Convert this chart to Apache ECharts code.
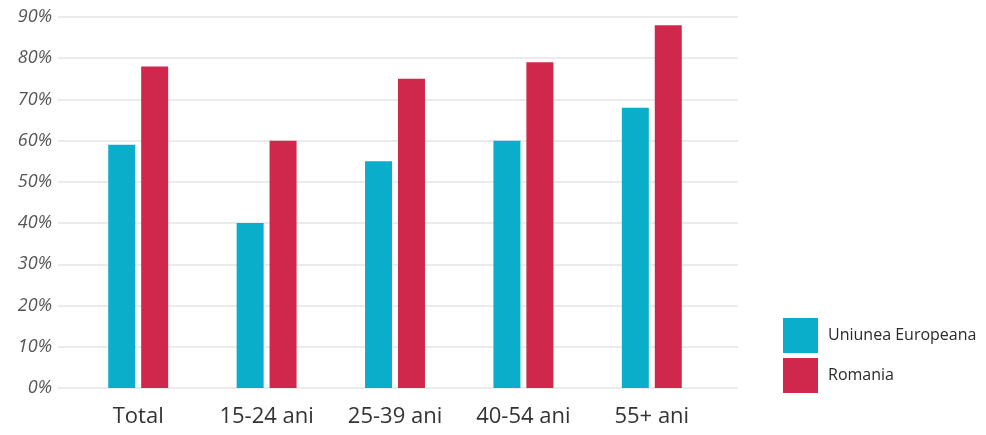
<!DOCTYPE html>
<html>
<head>
<meta charset="utf-8">
<script src="https://cdn.jsdelivr.net/npm/echarts@6/dist/echarts.min.js"></script>
<style>
html,body{margin:0;padding:0;background:#fff;}
#chart{width:986px;height:435px;}
</style>
</head>
<body>
<div id="chart"></div>
<script>
const categories = ['Total', '15-24 ani', '25-39 ani', '40-54 ani', '55+ ani'];
const seriesNames = ['Uniunea Europeana', 'Romania'];
const euValues = [59, 40, 55, 60, 68];
const roValues = [78, 60, 75, 79, 88];
const yTicks = { min: 0, max: 90, interval: 10 };

const chart = echarts.init(document.getElementById('chart'));
const gridTop = 17, gridBottom = 47;
chart.setOption({
  animation: false,
  backgroundColor: '#ffffff',
  legend: {
    orient: 'vertical',
    left: 783, top: 318, padding: 0,
    itemWidth: 35, itemHeight: 35, itemGap: 5,
    icon: 'rect',
    textStyle: { fontFamily: 'Open Sans', fontSize: 16, color: '#2a2a2a', padding: [0, 0, 0, 5] },
    data: seriesNames
  },
  grid: [
    { left: 74, width: 642, top: gridTop, bottom: gridBottom },
    { left: 58, right: 248, top: gridTop, bottom: gridBottom }
  ],
  xAxis: [
    { type: 'category', gridIndex: 0, data: categories,
      axisLine: { show: false }, axisTick: { show: false },
      axisLabel: { margin: 18, fontFamily: 'Open Sans', fontSize: 22, color: '#333' } },
    { type: 'category', gridIndex: 1, data: categories, show: false }
  ],
  yAxis: [
    { type: 'value', gridIndex: 0, min: yTicks.min, max: yTicks.max, interval: yTicks.interval, show: false },
    { type: 'value', gridIndex: 1, min: yTicks.min, max: yTicks.max, interval: yTicks.interval,
      axisLine: { show: false }, axisTick: { show: false },
      splitLine: { show: true, lineStyle: { color: '#ebebeb', width: 2 } },
      axisLabel: { margin: 6, formatter: '{value}%', fontFamily: 'Open Sans', fontStyle: 'italic', fontSize: 18, color: '#555' } }
  ],
  series: [
    { name: seriesNames[0], type: 'bar', xAxisIndex: 0, yAxisIndex: 0, data: euValues,
      barWidth: 27, barGap: '22%', itemStyle: { color: '#0aaecb' } },
    { name: seriesNames[1], type: 'bar', xAxisIndex: 0, yAxisIndex: 0, data: roValues,
      barWidth: 27, barGap: '22%', itemStyle: { color: '#d0284c' } }
  ]
});
</script>
</body>
</html>
